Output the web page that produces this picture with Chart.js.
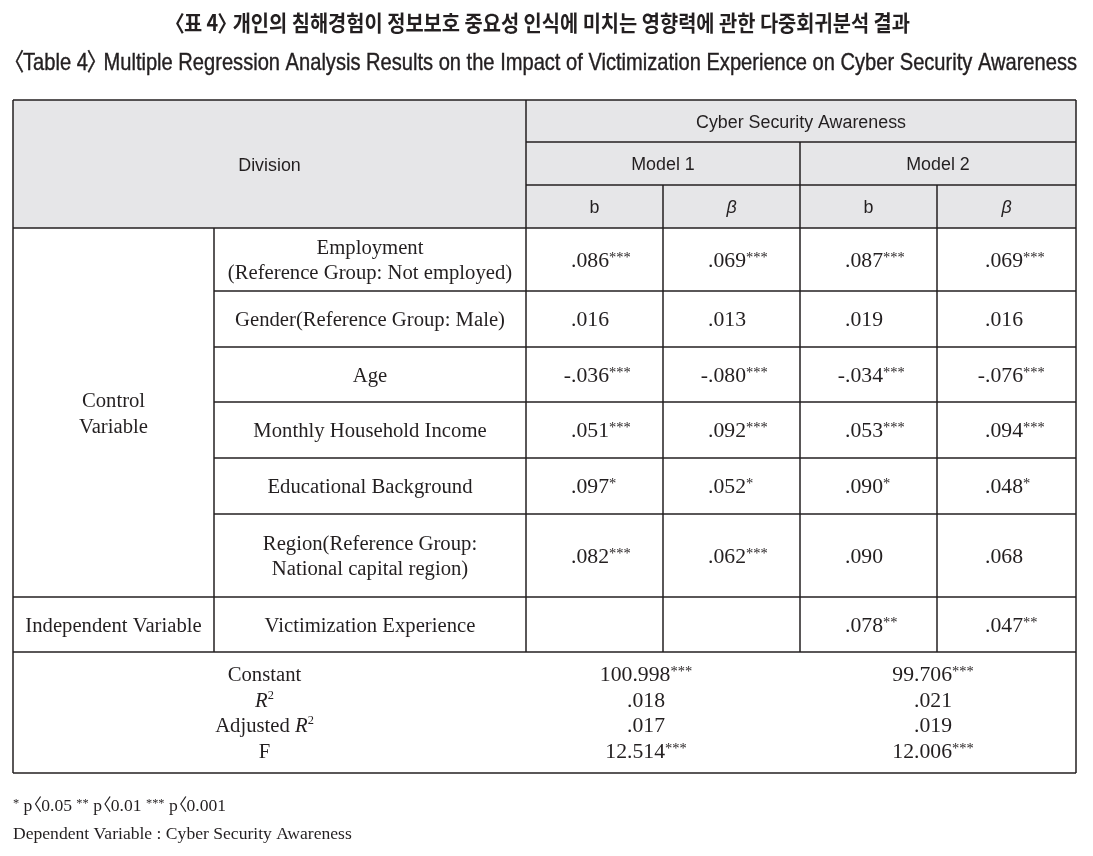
<!DOCTYPE html>
<html>
<head>
<meta charset="utf-8">
<script src="https://cdn.jsdelivr.net/npm/chart.js@4.4.0/dist/chart.umd.min.js"></script>
<style>
html, body { margin: 0; padding: 0; background: #fff; }
canvas { display: block; }
</style>
</head>
<body>
<canvas id="tbl" width="1093" height="856"></canvas>
<script>
// ---- table content ----
var titleKo = '〈표 4〉 개인의 침해경험이 정보보호 중요성 인식에 미치는 영향력에 관한 다중회귀분석 결과';
var titleEn = '〈Table 4〉 Multiple Regression Analysis Results on the Impact of Victimization Experience on Cyber Security Awareness';
var headDivision = 'Division';
var headTop = 'Cyber Security Awareness';
var models = ['Model 1', 'Model 2'];
var coefHeads = ['b', 'β', 'b', 'β'];
var groups = ['Control\nVariable', 'Independent Variable'];
var variables = [
  'Employment\n(Reference Group: Not employed)',
  'Gender(Reference Group: Male)',
  'Age',
  'Monthly Household Income',
  'Educational Background',
  'Region(Reference Group:\nNational capital region)',
  'Victimization Experience'
];
var m1b    = ['.086***', '.016', '-.036***', '.051***', '.097*', '.082***', ''];
var m1beta = ['.069***', '.013', '-.080***', '.092***', '.052*', '.062***', ''];
var m2b    = ['.087***', '.019', '-.034***', '.053***', '.090*', '.090', '.078**'];
var m2beta = ['.069***', '.016', '-.076***', '.094***', '.048*', '.068', '.047**'];
var statLabels = ['Constant', 'R²', 'Adjusted R²', 'F'];
var m1stats = ['100.998***', '.018', '.017', '12.514***'];
var m2stats = ['99.706***', '.021', '.019', '12.006***'];
var notes = ['* p〈0.05 ** p〈0.01 *** p〈0.001', 'Dependent Variable : Cyber Security Awareness'];

// ---- layout (in scale units) ----
var colEdges = [13, 214, 526, 663, 800, 937, 1076];
var rowEdges = [100, 142, 185, 228, 291, 347, 402, 458, 514, 597, 652, 773];
var groupRows = [[0, 6], [6, 7]];   // body rows covered by each group cell
var statCenters = [646, 933];

var INK = '#231f20';
var HEAD_BG = '#e6e6e8';
var SANS = '"Liberation Sans Narrow", "Liberation Sans", Arial, sans-serif';
var SERIF = '"Liberation Serif", "DejaVu Serif", serif';
var KO = '"Noto Sans CJK KR", "Noto Sans", sans-serif';

function measure(ctx, s, font) { ctx.font = font; return ctx.measureText(s).width; }

function put(ctx, s, x, y, font, sx, align, stroke) {
  ctx.save();
  ctx.font = font;
  ctx.textAlign = align || 'left';
  ctx.translate(x, y);
  ctx.scale(sx, 1);
  ctx.fillText(s, 0, 0);
  if (stroke) { ctx.lineWidth = stroke; ctx.strokeStyle = ctx.fillStyle; ctx.strokeText(s, 0, 0); }
  ctx.restore();
}

// segments: {s, font, dy, brk}; brk = narrow CJK angle bracket
function segWidth(ctx, g) {
  var w = measure(ctx, g.s, g.font);
  return g.brk ? w * 0.5 : w;
}
function rich(ctx, segs, x, y, sx, align, stroke) {
  var total = 0;
  segs.forEach(function (g) { g.w = segWidth(ctx, g) * sx; total += g.w; });
  var cx = align === 'center' ? x - total / 2 : x;
  segs.forEach(function (g) {
    var off = 0;
    if (g.brk === 'open') off = -g.w * 0.9;
    else if (g.brk === 'close') off = -g.w * 0.1;
    put(ctx, g.s, cx + off, y + (g.dy || 0), g.font, sx, 'left', stroke);
    cx += g.w;
  });
  return total;
}
function richWidth(ctx, segs) {
  return segs.reduce(function (a, g) { return a + segWidth(ctx, g); }, 0);
}

function bracketSegs(text, font, brkFont) {
  return text.split(/([〈〉])/).filter(function (p) { return p; }).map(function (p) {
    if (p === '〈') return { s: p, font: brkFont, brk: 'open' };
    if (p === '〉') return { s: p, font: brkFont, brk: 'close' };
    return { s: p, font: font };
  });
}

function valueSegs(v) {
  var m = v.match(/^([^*]*)(\**)$/);
  var segs = [{ s: m[1], font: '21px ' + SERIF }];
  if (m[2]) segs.push({ s: m[2], font: '14px ' + SERIF, dy: -5 });
  return segs;
}

function labelSegs(label) {
  var parts = label.split('R²');
  var segs = [];
  parts.forEach(function (p, i) {
    if (p) segs.push({ s: p, font: '20px ' + SERIF });
    if (i < parts.length - 1) {
      segs.push({ s: 'R', font: 'italic 20px ' + SERIF });
      segs.push({ s: '2', font: '12px ' + SERIF, dy: -8 });
    }
  });
  return segs;
}

function noteSegs(line) {
  var out = [];
  line.split(/(\*+)/).filter(function (p) { return p; }).forEach(function (p) {
    if (p[0] === '*') out.push({ s: p, font: '12px ' + SERIF, dy: -4 });
    else out = out.concat(bracketSegs(p, '17px ' + SERIF, '17px ' + KO));
  });
  return out;
}

var tablePlugin = {
  id: 'tableDraw',
  afterDraw: function (chart) {
    var ctx = chart.ctx;
    var sx = chart.scales.x, sy = chart.scales.y;
    var X = function (v) { return sx.getPixelForValue(v); };
    var Y = function (v) { return sy.getPixelForValue(v); };

    ctx.save();
    ctx.fillStyle = '#fff';
    ctx.fillRect(0, 0, chart.width, chart.height);

    // header background
    ctx.fillStyle = HEAD_BG;
    ctx.fillRect(X(colEdges[0]), Y(rowEdges[0]), X(colEdges[6]) - X(colEdges[0]), Y(rowEdges[3]) - Y(rowEdges[0]));

    // grid lines
    ctx.strokeStyle = INK;
    ctx.lineWidth = 1.5;
    function h(y, x0, x1) { ctx.beginPath(); ctx.moveTo(X(x0), Y(y)); ctx.lineTo(X(x1), Y(y)); ctx.stroke(); }
    function v(x, y0, y1) { ctx.beginPath(); ctx.moveTo(X(x), Y(y0)); ctx.lineTo(X(x), Y(y1)); ctx.stroke(); }
    var L = colEdges[0], R = colEdges[6];
    h(rowEdges[0], L, R);
    h(rowEdges[1], colEdges[2], R);
    h(rowEdges[2], colEdges[2], R);
    h(rowEdges[3], L, R);
    for (var i = 4; i <= 8; i++) h(rowEdges[i], colEdges[1], R);
    h(rowEdges[9], L, R);
    h(rowEdges[10], L, R);
    h(rowEdges[11], L, R);
    v(L, rowEdges[0], rowEdges[11]);
    v(R, rowEdges[0], rowEdges[11]);
    v(colEdges[2], rowEdges[0], rowEdges[10]);
    v(colEdges[1], rowEdges[3], rowEdges[10]);
    v(colEdges[4], rowEdges[1], rowEdges[10]);
    v(colEdges[3], rowEdges[2], rowEdges[10]);
    v(colEdges[5], rowEdges[2], rowEdges[10]);

    ctx.fillStyle = INK;
    ctx.textBaseline = 'alphabetic';

    // titles
    var fKo = 'bold 22px ' + KO;
    var koSegs = bracketSegs(titleKo, fKo, fKo);
    rich(ctx, koSegs, X(542), Y(31), 736 / richWidth(ctx, koSegs), 'center');
    var fEn = '24px ' + SANS;
    var enSegs = bracketSegs(titleEn, fEn, '24px ' + KO);
    rich(ctx, enSegs, X(13), Y(70), 1064 / richWidth(ctx, enSegs), 'left', 0.4);

    // header
    var fH = '18px ' + SANS;
    var hsx = 210 / measure(ctx, headTop, fH);
    var mid = function (a, b) { return (a + b) / 2; };
    put(ctx, headDivision, X(mid(colEdges[0], colEdges[2])), Y(mid(rowEdges[0], rowEdges[3]) + 6.5), fH, hsx, 'center');
    put(ctx, headTop, X(mid(colEdges[2], colEdges[6])), Y(mid(rowEdges[0], rowEdges[1]) + 6.5), fH, hsx, 'center');
    models.forEach(function (m, k) {
      put(ctx, m, X(mid(colEdges[2 + 2 * k], colEdges[4 + 2 * k])), Y(mid(rowEdges[1], rowEdges[2]) + 6.5), fH, hsx, 'center');
    });
    coefHeads.forEach(function (c, k) {
      var f = (c === 'β' ? 'italic ' : '') + fH;
      put(ctx, c, X(mid(colEdges[2 + k], colEdges[3 + k])), Y(mid(rowEdges[2], rowEdges[3]) + 6.5), f, hsx, 'center');
    });

    // body text
    var fB = '20px ' + SERIF;
    var bsx = 270 / measure(ctx, variables[1], fB);
    function lines(text, cx, cy, gap) {
      var ls = text.split('\n');
      ls.forEach(function (s, k) {
        put(ctx, s, X(cx), Y(cy + 7 + (k - (ls.length - 1) / 2) * gap), fB, bsx, 'center');
      });
    }
    groups.forEach(function (g, k) {
      var r = groupRows[k];
      lines(g, mid(colEdges[0], colEdges[1]), mid(rowEdges[3 + r[0]], rowEdges[3 + r[1]]), 26);
    });
    variables.forEach(function (t, k) {
      lines(t, mid(colEdges[1], colEdges[2]), mid(rowEdges[3 + k], rowEdges[4 + k]), 25);
    });

    // coefficient values, aligned on the decimal point
    var cols = [m1b, m1beta, m2b, m2beta];
    cols.forEach(function (arr, c) {
      var dec = colEdges[2 + c] + (c === 3 ? 48 : 45);
      arr.forEach(function (val, r) {
        if (!val) return;
        var segs = valueSegs(val);
        var pre = segs[0].s.split('.')[0];
        var preW = measure(ctx, pre, segs[0].font) * bsx;
        rich(ctx, segs, X(dec) - preW, Y(mid(rowEdges[3 + r], rowEdges[4 + r]) + 7), bsx, 'left');
      });
    });

    // model fit block
    var sc = mid(rowEdges[10], rowEdges[11]);
    var gap = 25.7;
    statLabels.forEach(function (lab, k) {
      var y = sc + 7 + (k - 1.5) * gap;
      rich(ctx, labelSegs(lab), X(mid(colEdges[0], colEdges[2]) - 5), Y(y), bsx, 'center');
      rich(ctx, valueSegs(m1stats[k]), X(statCenters[0]), Y(y), bsx, 'center');
      rich(ctx, valueSegs(m2stats[k]), X(statCenters[1]), Y(y), bsx, 'center');
    });

    // notes
    rich(ctx, noteSegs(notes[0]), X(13), Y(811), bsx, 'left');
    rich(ctx, noteSegs(notes[1]), X(13), Y(839), bsx, 'left');
    ctx.restore();
  }
};

new Chart(document.getElementById('tbl'), {
  type: 'scatter',
  data: { datasets: [] },
  options: {
    responsive: false,
    animation: false,
    layout: { padding: 0 },
    plugins: { legend: { display: false }, tooltip: { enabled: false }, title: { display: false } },
    scales: {
      x: { type: 'linear', min: 0, max: 1093, display: false },
      y: { type: 'linear', min: 0, max: 856, reverse: true, display: false }
    }
  },
  plugins: [tablePlugin]
});
</script>
</body>
</html>
